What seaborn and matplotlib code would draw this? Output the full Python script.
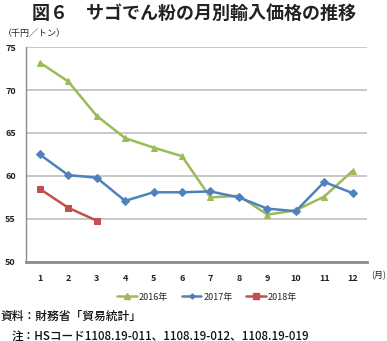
import matplotlib
matplotlib.use("Agg")
import matplotlib.pyplot as plt
import seaborn as sns
import pandas as pd
from matplotlib.lines import Line2D

months = list(range(1, 13))
month_labels = [str(m) for m in months]
price_2016 = [73.2, 71.0, 67.0, 64.4, 63.3, 62.3, 57.5, 57.7, 55.5, 56.0, 57.6, 60.6]
price_2017 = [62.5, 60.1, 59.8, 57.1, 58.1, 58.1, 58.2, 57.5, 56.2, 55.9, 59.3, 58.0]
price_2018 = [58.5, 56.3, 54.8]
series_names = ["2016年", "2017年", "2018年"]
y_ticks = [50, 55, 60, 65, 70, 75]

colors = {"2016年": "#9BBB59", "2017年": "#4F81BD", "2018年": "#C0504D"}
markers = {"2016年": "^", "2017年": "D", "2018年": "s"}
msizes = {"2016年": 5, "2017年": 3.6, "2018年": 5}

frames = []
for name, vals in zip(series_names, [price_2016, price_2017, price_2018]):
    frames.append(pd.DataFrame({"month": months[:len(vals)], "price": vals, "year": name}))
df = pd.concat(frames, ignore_index=True)

sns.set_theme(style="white")
plt.rcParams["font.family"] = ["Noto Sans CJK JP", "DejaVu Sans"]

fig = plt.figure(figsize=(3.87, 3.41), dpi=100)
ax = fig.add_axes([0.066, 0.232, 0.882, 0.630])

for name in series_names:
    sub = df[df["year"] == name]
    sns.lineplot(data=sub, x="month", y="price", ax=ax, color=colors[name],
                 marker=markers[name], markersize=msizes[name],
                 markeredgecolor=colors[name], linewidth=1.8, legend=False,
                 zorder=3)

ax.set_xlim(0.5, 12.5)
ax.set_ylim(50, 75)
ax.set_yticks(y_ticks)
ax.set_xticks(months)
ax.set_xticklabels(month_labels)
ax.set_xlabel("")
ax.set_ylabel("")
ax.tick_params(axis="both", length=0, labelsize=6.5, colors="#222222")
ax.tick_params(axis="x", pad=9)
ax.tick_params(axis="y", pad=7)
for lab in ax.get_xticklabels() + ax.get_yticklabels():
    lab.set_fontweight("bold")

ax.grid(axis="y", color="#BFBFBF", linewidth=1.2)
ax.set_axisbelow(True)
for side in ["top", "right"]:
    ax.spines[side].set_visible(False)
ax.spines["left"].set_color("#8C8C8C")
ax.spines["left"].set_linewidth(1.0)
ax.spines["bottom"].set_color("#8C8C8C")
ax.spines["bottom"].set_linewidth(2.0)

# Title and annotations
fig.text(0.5, 0.962, "図６　サゴでん粉の月別輸入価格の推移", ha="center", va="center",
         fontsize=13, fontweight="bold", color="#222222")
fig.text(0.008, 0.902, "（千円／トン）", ha="left", va="center", fontsize=6.5,
         color="#222222")
fig.text(0.997, 0.191, "(月)", ha="right", va="center", fontsize=6.5,
         color="#222222")

handles = [Line2D([0], [0], color=colors[n], marker=markers[n], markersize=msizes[n] - 1,
                  linewidth=1.8, markeredgecolor=colors[n]) for n in series_names]
fig.legend(handles, series_names, loc="center", bbox_to_anchor=(0.535, 0.129),
           ncol=3, frameon=False, fontsize=6.5, handlelength=2.2, handletextpad=0.2,
           columnspacing=1.5)

fig.text(0.0, 0.073, "資料：財務省「貿易統計」", ha="left", va="center",
         fontsize=8.5, fontweight="medium", color="#111111")
fig.text(0.03, 0.015, "注：HSコード1108.19-011、1108.19-012、1108.19-019", ha="left",
         va="center", fontsize=8.4, fontweight="medium", color="#111111")

fig.savefig("out.png", dpi=100)
